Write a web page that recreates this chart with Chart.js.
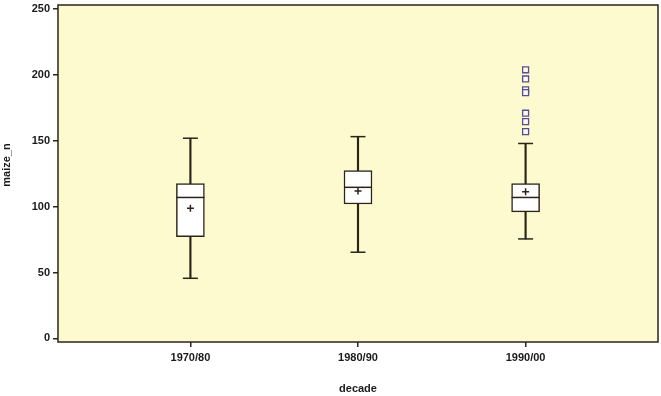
<!DOCTYPE html>
<html>
<head>
<meta charset="utf-8">
<script src="https://cdn.jsdelivr.net/npm/chart.js@4"></script>
<style>
  html, body { margin: 0; padding: 0; background: #fff; }
  #wrap { width: 661px; height: 396px; }
</style>
</head>
<body>
<div id="wrap"><canvas id="box"></canvas></div>
<script>
// box plot values
const categories = ['1970/80', '1980/90', '1990/00'];
const whiskerLow = [45.6, 65.4, 75.5];
const q1 = [77.2, 102, 96];
const median = [107, 114.7, 107];
const q3 = [117.5, 127.4, 117.5];
const whiskerHigh = [152, 153.2, 148];
const means = [98.8, 112, 111.4];
const outliers1990 = [204, 197, 188.7, 186.6, 171, 164.6, 157];
const yTicks = [0, 50, 100, 150, 200, 250];
const yTitle = 'maize_n';

const ink = '#2b2519';
const font = { family: "'Liberation Sans', Arial, sans-serif", size: 11, weight: 'bold' };

const frame = {
  id: 'frame',
  beforeDraw(chart) {
    const ctx = chart.ctx, a = chart.chartArea;
    ctx.save();
    ctx.fillStyle = '#fff';
    ctx.fillRect(0, 0, chart.width, chart.height);
    ctx.fillStyle = '#fdfad0';
    ctx.fillRect(a.left, a.top, a.right - a.left, a.bottom - a.top);
    ctx.restore();
  },
  afterDraw(chart) {
    const ctx = chart.ctx, a = chart.chartArea;
    ctx.save();
    ctx.strokeStyle = ink;
    ctx.lineWidth = 1.5;
    ctx.strokeRect(a.left, a.top, a.right - a.left, a.bottom - a.top);
    // y title sits a little above the middle of the axis in the original
    ctx.translate(7, 165);
    ctx.rotate(-Math.PI / 2);
    ctx.fillStyle = '#1a1a1a';
    ctx.font = 'bold 11px ' + font.family;
    ctx.textAlign = 'center';
    ctx.textBaseline = 'middle';
    ctx.fillText(yTitle, 0, 0);
    ctx.restore();
  }
};

var lowStem = [], highStem = [], boxes = [], mids = [], caps = [], avg = [], outs = [];
for (let i = 0; i < categories.length; i++) {
  const x = i + 1;
  lowStem.push({ x: x, y: [whiskerLow[i], q1[i]] });
  highStem.push({ x: x, y: [q3[i], whiskerHigh[i]] });
  boxes.push({ x: x, y: [q1[i], q3[i]] });
  mids.push({ x: x, y: median[i] });
  caps.push({ x: x, y: whiskerLow[i] });
  caps.push({ x: x, y: whiskerHigh[i] });
  avg.push({ x: x, y: means[i] });
};
for (let j = 0; j < outliers1990.length; j++) {
  outs.push({ x: 3, y: outliers1990[j] });
};

new Chart(document.getElementById('box'), {
  type: 'bar',
  data: {
    datasets: [
      { type: 'scatter', data: outs, pointStyle: 'rect', radius: 4.2, borderWidth: 1.3,
        borderColor: '#5a4c92', backgroundColor: '#fbfaf0', order: 1 },
      { type: 'scatter', data: avg, pointStyle: 'cross', radius: 3.5, borderWidth: 1.5,
        borderColor: ink, order: 1 },
      { type: 'scatter', data: mids, pointStyle: 'line', radius: 14, borderWidth: 1.5,
        borderColor: ink, order: 1 },
      { type: 'scatter', data: caps, pointStyle: 'line', radius: 7.5, borderWidth: 1.5,
        borderColor: ink, order: 1 },
      { data: boxes, barThickness: 28, backgroundColor: '#ffffff', borderColor: ink,
        borderWidth: 1.5, borderSkipped: false, grouped: false, order: 4 },
      { data: lowStem, barThickness: 1.5, backgroundColor: ink, borderWidth: 0,
        grouped: false, order: 5 },
      { data: highStem, barThickness: 1.5, backgroundColor: ink, borderWidth: 0,
        grouped: false, order: 5 }
    ]
  },
  options: {
    responsive: true,
    maintainAspectRatio: false,
    animation: false,
    events: [],
    layout: { autoPadding: false, padding: { top: 5, right: 3, left: 0, bottom: 0 } },
    plugins: { legend: { display: false }, tooltip: { enabled: false } },
    scales: {
      x: {
        type: 'linear',
        min: 0.21,
        max: 3.79,
        offset: false,
        afterFit: function(s) { s.height = 54; s.paddingLeft = 0; s.paddingRight = 0; },
        afterBuildTicks: function(s) { s.ticks = categories.map((c, i) => ({ value: i + 1 })); },
        ticks: {
          padding: 4, color: '#1a1a1a', font: font, maxRotation: 0,
          callback: function(v) { return categories[v - 1]; }
        },
        grid: { offset: false, drawOnChartArea: false, drawTicks: true, tickLength: 5, color: ink, lineWidth: 1.5 },
        border: { display: false },
        title: { display: true, text: 'decade', color: '#1a1a1a', font: font, padding: { top: 0, bottom: 0 } }
      },
      y: {
        min: -2.8,
        max: 253.2,
        afterFit: function(s) { s.width = 58; s.paddingTop = 0; s.paddingBottom = 0; },
        afterBuildTicks: function(s) { s.ticks = yTicks.map(v => ({ value: v })); },
        ticks: { padding: 3, color: '#1a1a1a', font: font },
        grid: { drawOnChartArea: false, drawTicks: true, tickLength: 5, color: ink, lineWidth: 1.5 },
        border: { display: false },
        title: { display: false }
      }
    }
  },
  plugins: [frame]
});
</script>
</body>
</html>
